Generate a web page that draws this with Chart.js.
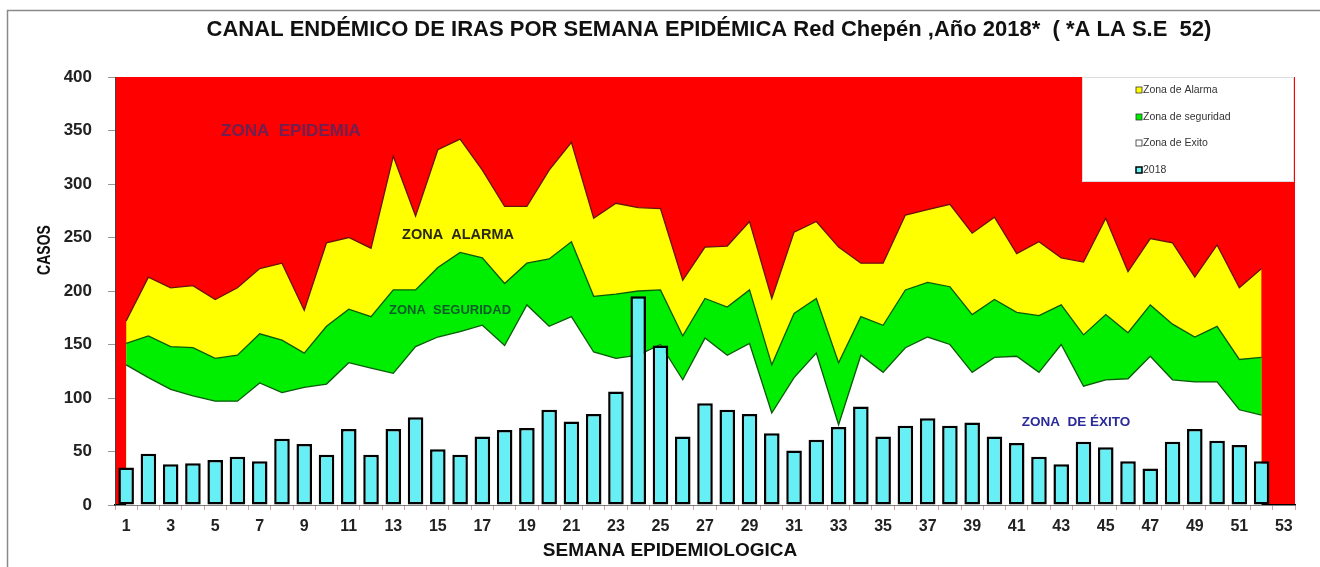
<!DOCTYPE html>
<html>
<head>
<meta charset="utf-8">
<script src="https://cdn.jsdelivr.net/npm/chart.js@4.4.1/dist/chart.umd.min.js"></script>
<style>
  html, body { margin: 0; padding: 0; background: #ffffff; }
  #wrap { width: 1320px; height: 567px; position: relative; }
  canvas { display: block; }
</style>
</head>
<body>
<div id="wrap"><canvas id="c" width="1320" height="567"></canvas></div>
<script>
// ---- DATA ----
const weeks = ['1','2','3','4','5','6','7','8','9','10','11','12','13','14','15','16','17','18','19','20','21','22','23','24','25','26','27','28','29','30','31','32','33','34','35','36','37','38','39','40','41','42','43','44','45','46','47','48','49','50','51','52','53'];
const zonaAlarma = [172,213,203,205,192,203,221,226,182,245,250,240,326,270,332,342,313,279,279,313,339,268,282,278,277,210,241,242,265,193,255,265,241,226,226,271,276,281,254,269,235,246,231,227,268,218,249,245,213,243,203,221];
const zonaSeguridad = [151,158,148,147,137,140,160,154,142,167,183,176,201,201,222,236,231,207,226,230,246,195,197,200,201,158,193,185,201,131,179,193,133,176,168,201,208,204,178,192,180,177,187,159,178,161,187,169,157,167,136,138];
const zonaExito = [131,119,108,102,97,97,114,105,110,113,133,128,123,148,157,162,168,149,187,167,176,143,137,140,150,117,156,140,151,86,119,142,75,140,124,147,157,150,124,138,139,124,150,111,117,118,139,117,115,115,89,84];
const casos2018 = [35,48,38,39,42,45,41,62,57,47,71,47,71,82,52,47,64,70,72,89,78,85,106,195,149,64,95,89,85,67,51,61,73,92,64,74,81,74,77,64,58,45,38,59,54,41,34,59,71,60,56,41];
const yTicks = [0,50,100,150,200,250,300,350,400];
const legendLabels = ['Zona de Alarma','Zona de seguridad','Zona de Exito','2018'];
const zoneLabels = ['ZONA  EPIDEMIA','ZONA  ALARMA','ZONA  SEGURIDAD','ZONA  DE ÉXITO'];
const titleText = 'CANAL ENDÉMICO DE IRAS POR SEMANA EPIDÉMICA Red Chepén ,Año 2018*  ( *A LA S.E  52)';
const xTitle = 'SEMANA EPIDEMIOLOGICA';
const yTitle = 'CASOS';

const FONT = 'Arial, "Liberation Sans", sans-serif';

const decor = {
  id: 'decor',
  beforeDraw(chart) {
    const {ctx, chartArea: a} = chart;
    ctx.save();
    ctx.fillStyle = '#FF0000';
    ctx.fillRect(a.left, a.top, a.right - a.left, a.bottom - a.top);
    ctx.restore();
  },
  afterDraw(chart) {
    const {ctx, chartArea: a} = chart;
    ctx.save();
    // outer frame
    ctx.strokeStyle = '#8a8a8a';
    ctx.lineWidth = 1.5;
    ctx.strokeRect(7.5, 10.5, 1330, 600);
    // chart title
    ctx.fillStyle = '#111';
    ctx.textAlign = 'center';
    ctx.textBaseline = 'middle';
    ctx.font = 'bold 22px ' + FONT;
    ctx.fillText(titleText, 709, 30);
    // axis titles
    ctx.font = 'bold 19px ' + FONT;
    ctx.fillText(xTitle, 670, 551);
    ctx.save();
    ctx.translate(45, 250);
    ctx.rotate(-Math.PI / 2);
    ctx.scale(0.74, 1);
    ctx.font = 'bold 19px ' + FONT;
    ctx.fillText(yTitle, 0, 0);
    ctx.restore();
    // zone labels
    ctx.font = 'bold 17px ' + FONT;
    ctx.fillStyle = '#6e2050';
    ctx.fillText(zoneLabels[0], 291, 131);
    ctx.font = 'bold 14.5px ' + FONT;
    ctx.fillStyle = '#2a2a10';
    ctx.fillText(zoneLabels[1], 458, 235);
    ctx.font = 'bold 13px ' + FONT;
    ctx.fillStyle = '#0b5e2a';
    ctx.fillText(zoneLabels[2], 450, 310);
    ctx.font = 'bold 13.5px ' + FONT;
    ctx.fillStyle = '#2a2a9a';
    ctx.fillText(zoneLabels[3], 1076, 422);
    // legend box
    const lx = 1082, ly = a.top, lw = a.right - 1082 - 2, lh = 181 - a.top;
    ctx.fillStyle = '#ffffff';
    ctx.fillRect(lx, ly, lw, lh);
    ctx.strokeStyle = '#dddddd';
    ctx.lineWidth = 1;
    ctx.strokeRect(lx + 0.5, ly + 0.5, lw, lh);
    const colors = ['#FFFF00', '#00EE00', '#FFFFFF', '#66F0F5'];
    const rows = [90, 117, 143, 170];
    ctx.font = '10.5px ' + FONT;
    ctx.textAlign = 'left';
    for (let i = 0; i < legendLabels.length; i++) {
      const y = rows[i];
      ctx.fillStyle = colors[i];
      ctx.fillRect(1136, y - 3, 6, 6);
      ctx.strokeStyle = i === 3 ? '#000' : '#333';
      ctx.lineWidth = i === 3 ? 1.5 : 0.8;
      ctx.strokeRect(1136, y - 3, 6, 6);
      ctx.fillStyle = '#333';
      ctx.fillText(legendLabels[i], 1143, y);
    }
    ctx.restore();
  }
};

new Chart(document.getElementById('c'), {
  type: 'bar',
  data: {
    labels: weeks,
    datasets: [
      {
        type: 'bar', label: legendLabels[3], data: casos2018, order: 0,
        backgroundColor: '#66F0F5', borderColor: '#000000', borderWidth: 2.5,
        borderSkipped: false, barPercentage: 0.7, categoryPercentage: 1
      },
      {
        type: 'line', label: legendLabels[2], data: zonaExito, order: 1,
        backgroundColor: '#FFFFFF', borderColor: '#0a5a0a', borderWidth: 1.3,
        fill: 'origin', pointRadius: 0, tension: 0
      },
      {
        type: 'line', label: legendLabels[1], data: zonaSeguridad, order: 2,
        backgroundColor: '#00EE00', borderColor: '#0a5a0a', borderWidth: 1.3,
        fill: 'origin', pointRadius: 0, tension: 0
      },
      {
        type: 'line', label: legendLabels[0], data: zonaAlarma, order: 3,
        backgroundColor: '#FFFF00', borderColor: '#6a1010', borderWidth: 1.3,
        fill: 'origin', pointRadius: 0, tension: 0
      }
    ]
  },
  options: {
    responsive: false,
    animation: false,
    layout: { padding: { left: 0, right: 25, top: 77, bottom: 0 } },
    plugins: {
      legend: { display: false },
      tooltip: { enabled: false },
      title: { display: false }
    },
    scales: {
      x: {
        offset: true,
        afterFit(s) { s.height = 62; },
        grid: { offset: true, drawOnChartArea: false, drawTicks: true, tickLength: 5, color: '#d9a0a0' },
        border: { display: true, color: '#000000', width: 1.5 },
        ticks: {
          autoSkip: false, maxRotation: 0, minRotation: 0, padding: 7,
          color: '#222', font: { family: FONT, size: 16, weight: 'bold' },
          callback(v, i) { return i % 2 === 0 ? weeks[i] : ''; }
        }
      },
      y: {
        min: yTicks[0], max: yTicks[yTicks.length - 1],
        afterFit(s) { s.width = 115; },
        afterBuildTicks(s) { s.ticks = yTicks.map(v => ({ value: v })); },
        grid: { drawOnChartArea: false, drawTicks: true, tickLength: 7, color: '#999' },
        border: { display: true, color: '#444', width: 1 },
        ticks: {
          padding: 16, color: '#222',
          font: { family: FONT, size: 17, weight: 'bold' }
        }
      }
    }
  },
  plugins: [decor]
});
</script>
</body>
</html>
